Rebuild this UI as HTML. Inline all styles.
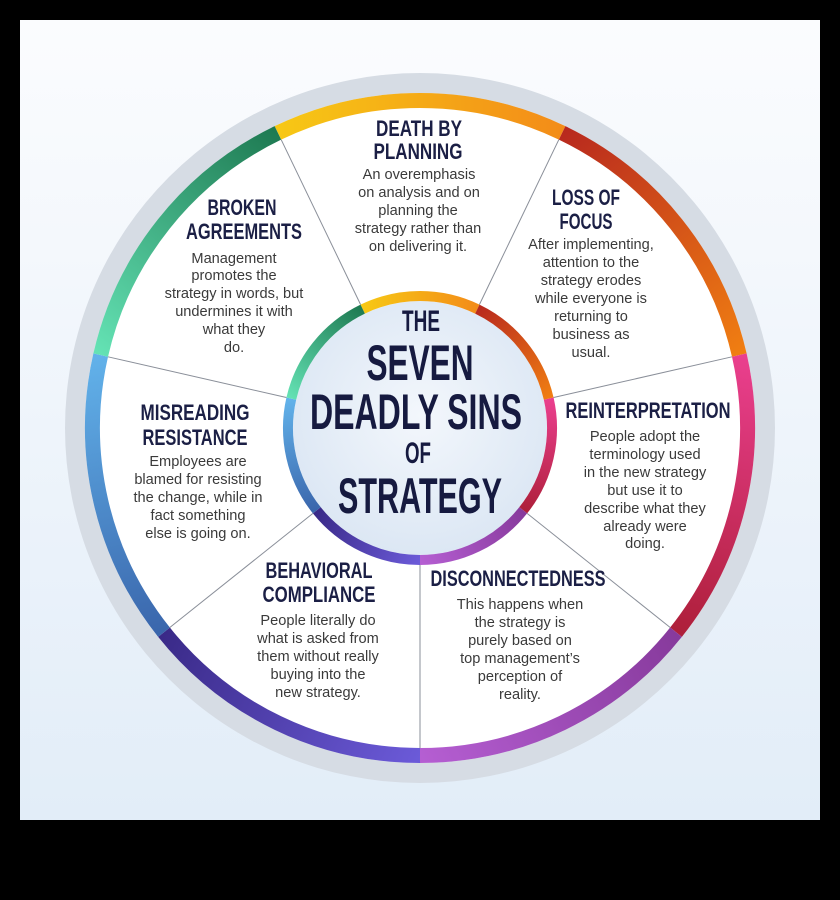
<!DOCTYPE html>
<html><head><meta charset="utf-8"><style>
html,body{margin:0;padding:0;background:#000;}
svg{display:block;}
.t{font-family:"Liberation Sans Narrow","Liberation Sans",sans-serif;font-weight:bold;fill:#1b1f45;font-size:22px;text-anchor:middle;}
.b{font-family:"Liberation Sans",sans-serif;fill:#3a3a3a;font-size:14.6px;text-anchor:middle;}
.c{font-family:"Liberation Sans Narrow","Liberation Sans",sans-serif;font-weight:bold;fill:#161a40;text-anchor:middle;}
</style></head><body>
<svg width="840" height="900" viewBox="0 0 840 900" xmlns="http://www.w3.org/2000/svg">
<defs>
<linearGradient id="bg" x1="0" y1="0" x2="0" y2="1"><stop offset="0" stop-color="#fbfcfe"/><stop offset="1" stop-color="#e2edf8"/></linearGradient>
<radialGradient id="cf" cx="0.5" cy="0.45" r="0.55"><stop offset="0" stop-color="#f3f7fc"/><stop offset="1" stop-color="#dce7f4"/></radialGradient>
<linearGradient id="g1" gradientUnits="userSpaceOnUse" x1="278" y1="133" x2="562" y2="133"><stop offset="0" stop-color="#f7c815"/><stop offset="1" stop-color="#f38c18"/></linearGradient>
<linearGradient id="g2" gradientUnits="userSpaceOnUse" x1="562" y1="133" x2="739" y2="355"><stop offset="0" stop-color="#b8291e"/><stop offset="1" stop-color="#f07e12"/></linearGradient>
<linearGradient id="g3" gradientUnits="userSpaceOnUse" x1="739" y1="355" x2="676" y2="632"><stop offset="0" stop-color="#ea3f8e"/><stop offset="1" stop-color="#ae1f3a"/></linearGradient>
<linearGradient id="g4" gradientUnits="userSpaceOnUse" x1="676" y1="632" x2="420" y2="755"><stop offset="0" stop-color="#873a9c"/><stop offset="1" stop-color="#b55ed2"/></linearGradient>
<linearGradient id="g5" gradientUnits="userSpaceOnUse" x1="420" y1="755" x2="164" y2="632"><stop offset="0" stop-color="#6b5ad8"/><stop offset="1" stop-color="#3a2a88"/></linearGradient>
<linearGradient id="g6" gradientUnits="userSpaceOnUse" x1="164" y1="632" x2="101" y2="355"><stop offset="0" stop-color="#3a66ac"/><stop offset="1" stop-color="#62b2ea"/></linearGradient>
<linearGradient id="g7" gradientUnits="userSpaceOnUse" x1="101" y1="355" x2="278" y2="133"><stop offset="0" stop-color="#64e2b4"/><stop offset="1" stop-color="#1e7a52"/></linearGradient>
<linearGradient id="h1" gradientUnits="userSpaceOnUse" x1="363" y1="309" x2="477" y2="309"><stop offset="0" stop-color="#f7c815"/><stop offset="1" stop-color="#f38c18"/></linearGradient>
<linearGradient id="h2" gradientUnits="userSpaceOnUse" x1="477" y1="309" x2="549" y2="399"><stop offset="0" stop-color="#b8291e"/><stop offset="1" stop-color="#f07e12"/></linearGradient>
<linearGradient id="h3" gradientUnits="userSpaceOnUse" x1="549" y1="399" x2="523" y2="510"><stop offset="0" stop-color="#ea3f8e"/><stop offset="1" stop-color="#ae1f3a"/></linearGradient>
<linearGradient id="h4" gradientUnits="userSpaceOnUse" x1="523" y1="510" x2="420" y2="560"><stop offset="0" stop-color="#873a9c"/><stop offset="1" stop-color="#b55ed2"/></linearGradient>
<linearGradient id="h5" gradientUnits="userSpaceOnUse" x1="420" y1="560" x2="317" y2="510"><stop offset="0" stop-color="#6b5ad8"/><stop offset="1" stop-color="#3a2a88"/></linearGradient>
<linearGradient id="h6" gradientUnits="userSpaceOnUse" x1="317" y1="510" x2="291" y2="399"><stop offset="0" stop-color="#3a66ac"/><stop offset="1" stop-color="#62b2ea"/></linearGradient>
<linearGradient id="h7" gradientUnits="userSpaceOnUse" x1="291" y1="399" x2="363" y2="309"><stop offset="0" stop-color="#64e2b4"/><stop offset="1" stop-color="#1e7a52"/></linearGradient>
</defs>
<rect x="0" y="0" width="840" height="900" fill="#000"/>
<rect x="20" y="20" width="800" height="800" fill="url(#bg)"/>
<circle cx="420" cy="428" r="355" fill="#d6dce4"/>
<circle cx="420" cy="428" r="335" fill="#ffffff"/>
<g fill="none" stroke-width="15">
<path d="M277.9 132.9 A327.5 327.5 0 0 1 562.1 132.9" stroke="url(#g1)"/>
<path d="M562.1 132.9 A327.5 327.5 0 0 1 739.3 355.1" stroke="url(#g2)"/>
<path d="M739.3 355.1 A327.5 327.5 0 0 1 676.0 632.2" stroke="url(#g3)"/>
<path d="M676.0 632.2 A327.5 327.5 0 0 1 420 755.5" stroke="url(#g4)"/>
<path d="M420 755.5 A327.5 327.5 0 0 1 164.0 632.2" stroke="url(#g5)"/>
<path d="M164.0 632.2 A327.5 327.5 0 0 1 100.7 355.1" stroke="url(#g6)"/>
<path d="M100.7 355.1 A327.5 327.5 0 0 1 277.9 132.9" stroke="url(#g7)"/>
</g>
<g stroke="#8a8f99" stroke-width="1">
<line x1="479.4" y1="304.6" x2="558.8" y2="139.7"/>
<line x1="553.6" y1="397.5" x2="732.0" y2="356.8"/>
<line x1="527.1" y1="513.4" x2="670.2" y2="627.5"/>
<line x1="420" y1="565" x2="420" y2="748"/>
<line x1="312.9" y1="513.4" x2="169.8" y2="627.5"/>
<line x1="286.4" y1="397.5" x2="108.0" y2="356.8"/>
<line x1="360.6" y1="304.6" x2="281.2" y2="139.7"/>
</g>
<circle cx="420" cy="428" r="137" fill="#ffffff"/>
<circle cx="420" cy="428" r="127" fill="url(#cf)"/>
<g fill="none" stroke-width="10">
<path d="M362.7 309.1 A132 132 0 0 1 477.3 309.1" stroke="url(#h1)"/>
<path d="M477.3 309.1 A132 132 0 0 1 548.7 398.6" stroke="url(#h2)"/>
<path d="M548.7 398.6 A132 132 0 0 1 523.2 510.3" stroke="url(#h3)"/>
<path d="M523.2 510.3 A132 132 0 0 1 420 560" stroke="url(#h4)"/>
<path d="M420 560 A132 132 0 0 1 316.8 510.3" stroke="url(#h5)"/>
<path d="M316.8 510.3 A132 132 0 0 1 291.3 398.6" stroke="url(#h6)"/>
<path d="M291.3 398.6 A132 132 0 0 1 362.7 309.1" stroke="url(#h7)"/>
</g>
<text class="c" x="421" y="331" font-size="30" textLength="38" lengthAdjust="spacingAndGlyphs">THE</text>
<text class="c" x="420" y="380" font-size="50" textLength="107" lengthAdjust="spacingAndGlyphs">SEVEN</text>
<text class="c" x="416" y="429" font-size="50" textLength="212" lengthAdjust="spacingAndGlyphs">DEADLY SINS</text>
<text class="c" x="418" y="463" font-size="30" textLength="26" lengthAdjust="spacingAndGlyphs">OF</text>
<text class="c" x="420" y="513" font-size="50" textLength="164" lengthAdjust="spacingAndGlyphs">STRATEGY</text>

<text class="t" x="419" y="136" textLength="86" lengthAdjust="spacingAndGlyphs">DEATH BY</text>
<text class="t" x="418" y="159" textLength="89" lengthAdjust="spacingAndGlyphs">PLANNING</text>
<text class="b" x="419" y="179">An overemphasis</text>
<text class="b" x="419" y="197">on analysis and on</text>
<text class="b" x="418" y="215">planning the</text>
<text class="b" x="418" y="233">strategy rather than</text>
<text class="b" x="418" y="251">on delivering it.</text>

<text class="t" x="242" y="215" textLength="69" lengthAdjust="spacingAndGlyphs">BROKEN</text>
<text class="t" x="244" y="239" textLength="116" lengthAdjust="spacingAndGlyphs">AGREEMENTS</text>
<text class="b" x="234" y="263">Management</text>
<text class="b" x="234" y="280">promotes the</text>
<text class="b" x="234" y="298">strategy in words, but</text>
<text class="b" x="234" y="316">undermines it with</text>
<text class="b" x="234" y="334">what they</text>
<text class="b" x="234" y="352">do.</text>

<text class="t" x="586" y="205" textLength="68" lengthAdjust="spacingAndGlyphs">LOSS OF</text>
<text class="t" x="586" y="229" textLength="53" lengthAdjust="spacingAndGlyphs">FOCUS</text>
<text class="b" x="591" y="249">After implementing,</text>
<text class="b" x="591" y="267">attention to the</text>
<text class="b" x="591" y="285">strategy erodes</text>
<text class="b" x="591" y="303">while everyone is</text>
<text class="b" x="591" y="321">returning to</text>
<text class="b" x="591" y="339">business as</text>
<text class="b" x="591" y="357">usual.</text>

<text class="t" x="195" y="420" textLength="109" lengthAdjust="spacingAndGlyphs">MISREADING</text>
<text class="t" x="195" y="445" textLength="105" lengthAdjust="spacingAndGlyphs">RESISTANCE</text>
<text class="b" x="198" y="466">Employees are</text>
<text class="b" x="198" y="484">blamed for resisting</text>
<text class="b" x="198" y="502">the change, while in</text>
<text class="b" x="198" y="520">fact something</text>
<text class="b" x="198" y="538">else is going on.</text>

<text class="t" x="648" y="418" textLength="165" lengthAdjust="spacingAndGlyphs">REINTERPRETATION</text>
<text class="b" x="645" y="441">People adopt the</text>
<text class="b" x="645" y="459">terminology used</text>
<text class="b" x="645" y="477">in the new strategy</text>
<text class="b" x="645" y="495">but use it to</text>
<text class="b" x="645" y="513">describe what they</text>
<text class="b" x="645" y="531">already were</text>
<text class="b" x="645" y="548">doing.</text>

<text class="t" x="319" y="578" textLength="107" lengthAdjust="spacingAndGlyphs">BEHAVIORAL</text>
<text class="t" x="319" y="602" textLength="113" lengthAdjust="spacingAndGlyphs">COMPLIANCE</text>
<text class="b" x="318" y="625">People literally do</text>
<text class="b" x="318" y="643">what is asked from</text>
<text class="b" x="318" y="661">them without really</text>
<text class="b" x="318" y="679">buying into the</text>
<text class="b" x="318" y="697">new strategy.</text>

<text class="t" x="518" y="586" textLength="175" lengthAdjust="spacingAndGlyphs">DISCONNECTEDNESS</text>
<text class="b" x="520" y="609">This happens when</text>
<text class="b" x="520" y="627">the strategy is</text>
<text class="b" x="520" y="645">purely based on</text>
<text class="b" x="520" y="663">top management’s</text>
<text class="b" x="520" y="681">perception of</text>
<text class="b" x="520" y="699">reality.</text>
</svg>
</body></html>
